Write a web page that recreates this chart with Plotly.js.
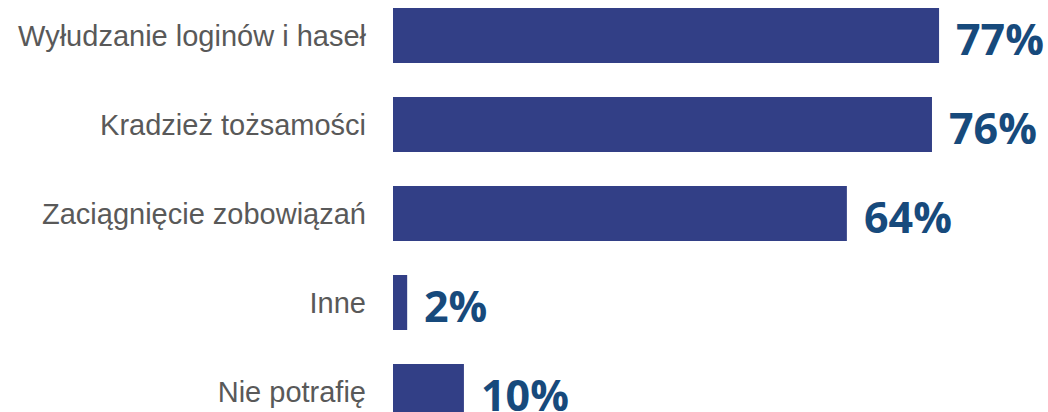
<!DOCTYPE html>
<html><head><meta charset="utf-8">
<script src="https://cdn.plot.ly/plotly-3.0.1.min.js"></script>
<style>html,body{margin:0;padding:0;background:#fff}</style>
</head><body><div id="chart" style="width:1048px;height:412px"></div>
<script>
const categories = ["Wyłudzanie loginów i haseł","Kradzież tożsamości","Zaciągnięcie zobowiązań","Inne","Nie potrafię"];
const values = [77, 76, 64, 2, 10];
const valueLabels = ["77%","76%","64%","2%","10%"];

const trace = {
  type: 'bar', orientation: 'h',
  x: values, y: categories,
  marker: {color: '#323f86'},
  hoverinfo: 'skip'
};
const annotations = categories.map((c, i) => ({
  x: values[i], y: c, xref: 'x', yref: 'y',
  text: valueLabels[i], showarrow: false,
  xanchor: 'left', yanchor: 'middle', xshift: 15, yshift: -3,
  font: {family: 'Open Sans', size: 43, color: '#174a7c', weight: 700}
}));
const layout = {
  width: 1048, height: 412,
  margin: {l: 393, r: 0, t: 0, b: 0},
  paper_bgcolor: '#fff', plot_bgcolor: '#fff',
  bargap: 0.382,
  showlegend: false,
  xaxis: {range: [0, 92.36], visible: false, fixedrange: true},
  yaxis: {type: 'category', range: [4.23, -0.399], showgrid: false, zeroline: false, showline: false,
          ticks: '', ticklabelstandoff: 26,
          tickfont: {family: 'Liberation Sans, Arial', size: 29, color: '#595959'}},
  annotations: annotations
};
Plotly.newPlot('chart', [trace], layout, {displayModeBar: false, staticPlot: true});
</script></body></html>
